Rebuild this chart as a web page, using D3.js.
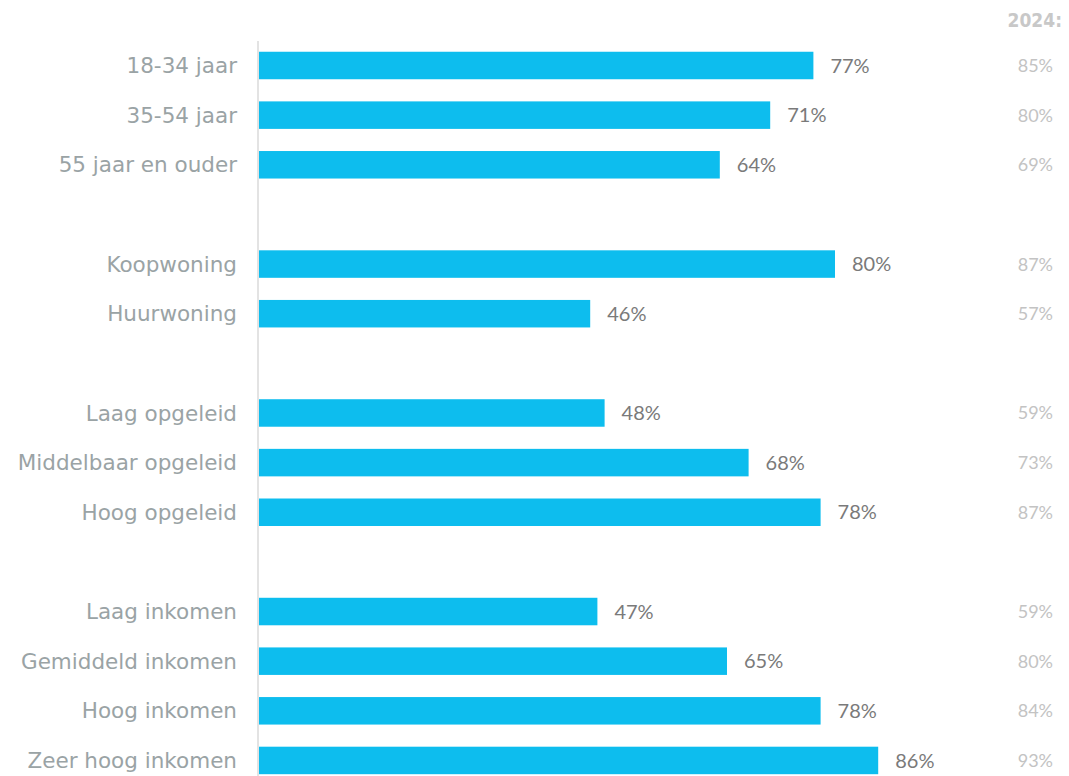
<!DOCTYPE html>
<html><head><meta charset="utf-8">
<script src="https://cdn.jsdelivr.net/npm/d3@7"></script>
<style>body{margin:0;background:#fff}svg{display:block}</style>
</head><body>
<script>
const categories = ["18-34 jaar","35-54 jaar","55 jaar en ouder","Koopwoning","Huurwoning","Laag opgeleid","Middelbaar opgeleid","Hoog opgeleid","Laag inkomen","Gemiddeld inkomen","Hoog inkomen","Zeer hoog inkomen"];
const values2025 = [77,71,64,80,46,48,68,78,47,65,78,86];
const values2024 = [85,80,69,87,57,59,73,87,59,80,84,93];
const groupSizes = [3,2,3,4];
const prevLabel = "2024:";

const W=1069,H=776;
const svg=d3.select("body").append("svg").attr("width",W).attr("height",H);

// slot index per category (one empty slot between groups)
const slots=[];let s=0;
groupSizes.forEach((g,gi)=>{for(let i=0;i<g;i++)slots.push(s++);s++;});
const nSlots=slots[slots.length-1]+1;

const y=d3.scaleBand().domain(d3.range(nSlots)).range([51.75,774.2]).paddingInner(0.446).paddingOuter(0);
const x=d3.scaleLinear().domain([0,100]).range([259,979]);

svg.append("line").attr("x1",258).attr("x2",258).attr("y1",41).attr("y2",H)
  .attr("stroke","#e3e3e3").attr("stroke-width",2);

const data=categories.map((c,i)=>({c,v:values2025[i],p:values2024[i],slot:slots[i]}));

svg.selectAll("rect.bar").data(data).join("rect").attr("class","bar")
  .attr("x",x(0)).attr("y",d=>y(d.slot)).attr("width",d=>x(d.v)-x(0)).attr("height",y.bandwidth())
  .attr("fill","#0dbdee");

svg.selectAll("text.cat").data(data).join("text").attr("class","cat")
  .attr("x",237).attr("y",d=>y(d.slot)+y.bandwidth()/2).attr("dy","0.35em")
  .attr("text-anchor","end").attr("font-family","DejaVu Sans").attr("font-size",21.5)
  .attr("fill","#9aa3a5").text(d=>d.c);

svg.selectAll("text.val").data(data).join("text").attr("class","val")
  .attr("x",d=>x(d.v)+17).attr("y",d=>y(d.slot)+y.bandwidth()/2).attr("dy","0.36em")
  .attr("font-family","Lato").attr("font-size",20)
  .attr("fill","#7a7a7a").text(d=>d.v+"%");

svg.selectAll("text.prev").data(data).join("text").attr("class","prev")
  .attr("x",1053).attr("y",d=>y(d.slot)+y.bandwidth()/2).attr("dy","0.36em")
  .attr("text-anchor","end").attr("font-family","Lato").attr("font-size",18)
  .attr("fill","#c3c3c3").text(d=>d.p+"%");

svg.append("text").attr("x",1062).attr("y",20.5).attr("dy","0.36em").attr("text-anchor","end")
  .attr("font-family","DejaVu Sans Condensed, DejaVu Sans").attr("font-weight","bold").attr("font-size",19)
  .attr("fill","#c8c8c8").text(prevLabel);
</script>
</body></html>
